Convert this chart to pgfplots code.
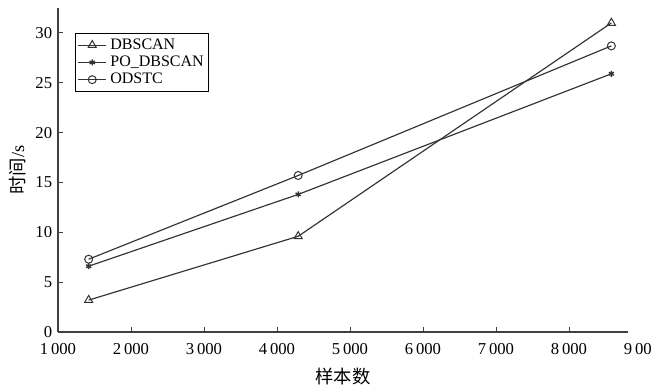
\documentclass[border=0pt]{standalone}
\usepackage{pgfplots}
\pgfplotsset{compat=1.18}
\usepackage{fontspec}
\setmainfont{Liberation Serif}
\newfontfamily\cjk{Noto Sans CJK SC}
\begin{document}
\begin{tikzpicture}[x=1pt,y=1pt]
\begin{axis}[
  scale only axis,
  width=342pt, height=194.4pt,
  xmin=1000, xmax=8808, ymin=0, ymax=32.5,
  axis x line*=bottom, axis y line*=left,
  axis line style={-, black!75, line width=0.7pt},
  xtick={1000,2000,...,8000},
  ytick={0,5,...,30},
  tick style={black!75, line width=0.6pt},
  major tick length=3pt,
  tick align=inside,
  /pgf/number format/assume math mode=true,
  /pgf/number format/1000 sep={\,},
  ticklabel style={font=\fontsize{10}{12}\selectfont},
  xticklabel style={yshift=-3.5pt},
  clip=false,
  xlabel={\cjk 样本数},
  ylabel={{\cjk 时间}/s},
  label style={font=\fontsize{11}{13}\selectfont},
  xlabel style={yshift=-1pt},
  ylabel style={yshift=-1pt},
  legend style={at={(rel axis cs:0.03,0.923)}, anchor=north west,
    font=\fontsize{9.6}{10.5}\selectfont, draw=black, line width=0.8pt,
    inner sep=1pt, row sep=-1.5pt, legend cell align=left},
  legend cell align=left,
]
\addplot[black!80, line width=0.7pt, mark=triangle, mark size=2.8pt, mark options={solid, fill=white, line width=0.6pt}] coordinates {(1420,3.2) (4290,9.6) (8580,31.0)};
\addlegendentry{DBSCAN}
\addplot[black!80, line width=0.7pt, mark=asterisk, mark size=1.8pt, mark options={solid, line width=0.8pt}] coordinates {(1420,6.6) (4290,13.8) (8580,25.9)};
\addlegendentry{PO\_DBSCAN}
\addplot[black!80, line width=0.7pt, mark=o, mark size=2.4pt, mark options={solid, fill=white, line width=0.6pt}] coordinates {(1420,7.3) (4290,15.7) (8580,28.7)};
\addlegendentry{ODSTC}
\node[anchor=north, font=\fontsize{10}{12}\selectfont, inner sep=0.3333em, yshift=-3.5pt] at (axis cs:9000,0) {9\,000};
\end{axis}
\pgfresetboundingbox
\path (-34.8pt,-33.6pt) rectangle (356.4pt,199.2pt);
\end{tikzpicture}
\end{document}
